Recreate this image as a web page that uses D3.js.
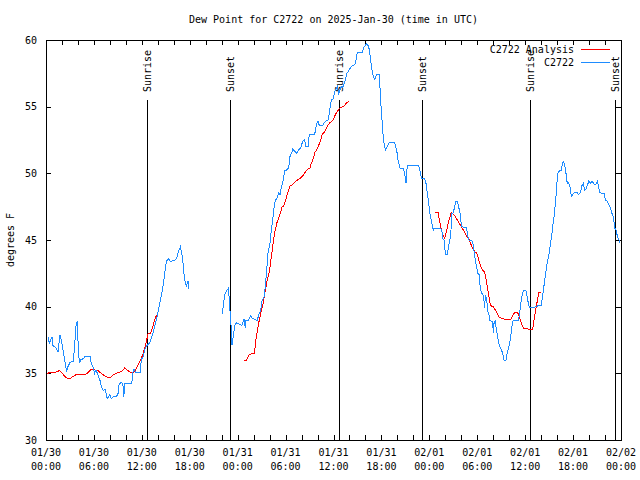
<!DOCTYPE html>
<html><head><meta charset="utf-8">
<script src="https://cdn.jsdelivr.net/npm/d3@7"></script>
<style>
body{margin:0;background:#fff;}
text{font-family:"DejaVu Sans Mono","Liberation Mono",monospace;font-size:10px;fill:#000;}
</style></head>
<body><svg id="c" width="640" height="480"></svg>
<script>
// ---- data (hours since 2025-01-30 00:00 UTC, dew point in °F; null = gap) ----
const titleText = "Dew Point for C2722 on 2025-Jan-30 (time in UTC)";
const yLabel = "degrees F";
const yTicks = [30,35,40,45,50,55,60];
const seriesNames = ["C2722 Analysis","C2722"];

const obsHours = [0.25,0.41,0.58,0.75,0.83,1.25,1.5,1.75,1.92,2.08,2.33,2.58,2.75,3.0,3.25,3.42,3.58,3.75,3.92,4.0,4.17,4.33,4.67,4.92,5.5,5.67,5.92,6.08,6.25,6.5,6.75,6.92,7.17,7.42,7.67,8.0,8.17,8.5,8.83,9.0,9.17,9.5,9.67,9.75,9.83,10.17,10.75,10.83,11.0,11.25,11.83,11.92,12.17,12.42,12.67,13.0,13.25,13.5,13.92,14.17,14.42,14.67,14.92,15.08,15.33,15.58,16.08,16.33,16.58,16.83,17.0,17.17,17.33,17.58,17.67,17.83,17.85,
 20.0,
 22.08,22.2,22.38,22.63,22.88,22.95,23.13,23.29,23.45,23.63,23.88,24.54,24.79,24.96,25.04,25.38,25.63,25.88,26.21,26.46,26.63,26.89,27.05,27.3,27.46,27.64,27.8,28.05,28.21,28.39,28.55,28.71,28.89,29.14,29.3,29.46,29.71,29.89,30.14,30.39,30.55,30.8,30.89,31.22,31.39,31.64,31.89,32.14,32.39,32.56,32.81,32.97,33.22,33.65,33.9,34.06,34.22,34.65,34.97,35.31,35.47,35.72,35.97,36.22,36.47,36.65,36.98,37.23,37.48,37.65,37.82,37.98,38.23,38.48,38.73,38.98,39.57,39.82,40.16,40.41,40.57,40.73,40.98,41.16,41.41,41.74,41.91,42.07,42.24,42.49,42.74,42.99,43.66,43.91,44.08,44.33,44.74,44.92,45.08,45.24,46.67,46.92,47.08,47.42,47.58,47.75,47.92,48.08,48.25,48.42,48.5,48.58,49.0,49.42,49.59,49.67,49.84,49.92,50.09,50.25,50.42,50.59,50.75,50.84,51.0,51.17,51.34,51.5,51.67,51.84,51.92,52.09,52.43,52.68,52.76,52.93,53.26,53.43,53.59,53.76,53.93,54.09,54.26,54.35,54.51,54.68,54.85,54.93,55.01,55.18,55.35,55.51,55.6,55.93,56.01,56.1,56.26,56.35,56.51,56.68,56.85,57.01,57.18,57.35,57.6,57.76,57.93,58.1,58.26,58.43,58.6,58.93,59.18,59.35,59.51,59.76,60.1,60.26,60.43,60.6,61.01,61.43,61.68,62.0,62.18,62.34,62.51,62.68,62.93,63.18,63.35,63.52,63.69,63.77,63.94,64.01,64.1,64.35,64.51,64.68,64.76,64.94,65.11,65.27,65.45,65.61,65.78,65.95,66.2,66.45,66.7,66.95,67.12,67.29,67.45,67.62,67.79,67.96,68.21,68.37,68.62,68.87,69.04,69.21,69.29,69.71,69.88,70.04,70.29,70.54,70.71,70.87,71.04,71.21,71.38,71.54,71.71,71.88];
const obsValues = [37.7,37.25,37.5,37.7,37.1,36.9,36.6,37.9,37.5,36.9,36.0,35.1,35.5,35.8,35.9,35.9,37.0,38.5,38.9,37.5,35.75,36.0,36.1,36.3,36.3,35.75,35.4,35.0,35.25,34.9,34.5,34.0,33.7,33.8,33.1,33.4,33.1,33.3,33.3,33.4,34.25,34.3,34.0,33.25,34.25,34.25,34.25,35.0,35.3,35.05,35.05,36.0,36.25,36.9,37.1,37.3,37.75,38.25,39.3,40.0,40.75,41.6,42.75,43.4,43.6,43.4,43.45,43.6,44.1,44.5,44.0,43.25,42.1,41.5,41.75,41.95,41.3,
 null,
 39.45,40.1,40.9,41.2,41.4,40.25,39.1,37.1,37.75,38.6,38.8,38.6,39.1,38.4,39.0,39.0,39.3,39.1,39.05,38.95,39.4,39.75,40.4,40.75,41.5,42.75,44.0,44.75,45.75,46.5,47.4,48.0,48.1,48.5,48.4,48.9,49.5,50.2,50.25,50.4,51.25,51.6,51.8,51.6,51.5,51.75,51.9,52.4,52.5,52.0,52.0,52.9,52.9,52.95,53.75,53.9,53.6,53.6,53.9,54.0,54.5,55.5,55.6,56.25,56.5,56.0,56.5,56.5,57.0,57.5,57.6,57.8,58.0,58.1,58.2,59.05,59.05,59.45,59.75,59.5,58.9,58.1,57.25,57.05,57.4,57.4,55.4,54.0,52.6,51.75,52.0,52.3,52.3,51.75,51.0,50.4,50.4,49.9,49.3,50.6,50.6,49.9,49.6,49.6,49.25,48.5,47.75,47.0,46.4,46.0,45.7,45.9,45.9,45.9,45.6,45.1,45.0,44.4,43.9,43.9,44.6,45.05,46.0,47.0,47.05,47.5,47.9,47.9,47.5,47.0,46.5,46.0,45.95,45.95,45.4,45.0,44.95,44.9,44.2,43.5,42.9,42.5,42.4,41.6,41.0,41.0,40.4,39.9,40.9,40.5,39.6,39.3,38.95,38.9,38.0,38.75,39.0,38.5,37.9,37.25,37.0,36.8,36.5,36.0,36.0,36.6,36.9,37.4,38.1,38.9,39.0,38.95,39.0,39.75,40.5,41.2,41.2,40.75,40.1,39.9,39.95,40.0,40.1,40.1,40.75,41.5,42.25,43.0,43.75,44.75,45.5,46.4,47.0,47.75,48.75,49.6,50.0,50.25,50.25,50.75,50.9,50.65,50.0,49.25,49.3,49.0,48.25,48.4,48.6,48.6,48.4,48.6,49.1,49.25,48.75,48.8,49.1,49.4,49.25,49.4,49.2,49.2,49.4,49.0,48.55,48.5,48.5,48.0,47.9,47.6,47.3,47.0,46.75,45.9,45.75,45.3,45.05,44.75];

const anaHours = [0.0,0.63,1.25,1.67,1.92,2.17,2.5,2.75,3.0,3.34,3.76,4.17,4.92,5.35,5.67,6.1,6.51,6.92,7.35,7.76,8.1,8.43,8.77,9.27,9.6,9.85,10.18,10.52,10.86,11.18,11.52,11.86,12.11,12.36,12.61,12.77,13.11,13.36,13.61,13.77,13.94,
 19.0,
 24.79,25.13,25.46,25.96,26.13,26.21,26.38,26.55,26.71,26.89,27.14,27.39,27.55,27.71,27.89,28.05,28.21,28.39,28.55,28.71,28.96,29.21,29.39,29.55,29.71,29.97,30.14,30.39,30.55,30.8,31.05,31.3,31.56,31.81,32.06,32.31,32.47,32.72,33.06,33.22,33.47,33.65,33.9,34.15,34.4,34.56,34.81,35.06,35.31,35.56,35.98,36.23,36.56,36.81,37.15,37.4,37.65,37.98,
 43.0,
 48.75,49.08,49.25,49.42,49.67,49.92,50.09,50.25,50.42,50.59,50.75,51.0,51.25,51.5,51.75,52.0,52.26,52.51,52.76,53.01,53.26,53.51,53.69,53.85,54.01,54.18,54.43,54.68,54.93,55.1,55.26,55.43,55.6,55.76,56.01,56.26,56.51,56.76,57.18,57.6,58.01,58.26,58.51,58.76,59.01,59.18,59.44,59.76,60.19,60.6,60.94,61.1,61.27,61.45,61.61,61.7,62.02];
const anaValues = [35.0,35.05,35.1,35.2,35.1,34.9,34.7,34.6,34.6,34.75,34.9,34.9,34.9,35.1,35.3,35.25,35.2,35.0,34.8,34.7,34.7,34.9,35.0,35.1,35.2,35.4,35.25,35.1,35.0,35.2,35.6,36.0,36.4,36.9,37.5,37.95,38.0,38.5,39.0,39.25,39.4,
 null,
 35.95,36.0,36.4,36.5,36.5,37.25,37.9,38.5,39.0,39.5,40.1,41.0,41.5,42.0,42.4,43.0,43.75,44.5,45.25,45.75,46.4,46.75,47.1,47.5,47.5,47.9,48.3,48.75,49.05,49.1,49.25,49.4,49.55,49.6,49.75,49.95,50.1,50.3,50.4,50.75,51.1,51.55,51.75,52.1,52.5,52.9,53.05,53.3,53.6,53.8,54.0,54.4,54.7,54.9,55.0,55.1,55.3,55.4,
 null,
 47.1,47.1,46.5,46.0,45.4,45.1,45.5,45.9,46.4,46.75,47.05,46.95,46.75,46.5,46.25,46.0,45.75,45.45,45.2,45.0,44.6,44.3,44.1,44.05,43.9,43.5,43.05,42.75,42.6,42.1,41.5,40.9,40.25,40.05,40.0,39.75,39.5,39.2,39.1,39.05,39.0,39.1,39.4,39.6,39.6,39.4,38.9,38.4,38.35,38.3,38.3,39.0,39.6,40.2,40.75,41.05,41.05];

const sunLabels = ["Sunrise","Sunset","Sunrise","Sunset","Sunrise","Sunset"];
const sunHours = [12.66,23.08,36.7,47.1,60.65,71.2];

// ---- drawing ----
const svg = d3.select("#c");
const L=46, R=621, T=40, B=440;
const t0 = Date.UTC(2025,0,30);
const toDate = h => new Date(t0 + h*3600e3);
const x = d3.scaleUtc().domain([toDate(0), toDate(72)]).range([L, R]);
const y = d3.scaleLinear().domain([30,60]).range([B, T]);
const colAna = "#ff0000", colObs = "#1e8cff";

svg.append("text").attr("x",(L+R)/2).attr("y",23).attr("text-anchor","middle").text(titleText);

// x axis (bottom & top), ticks every 2h, labels every 6h
const xTickVals = d3.range(0,73,2).map(toDate);
const fmtD = d3.utcFormat("%m/%d"), fmtT = d3.utcFormat("%H:%M");
const gxB = svg.append("g").attr("transform",`translate(0,${B})`)
  .call(d3.axisBottom(x).tickValues(xTickVals).tickSizeInner(-5).tickSizeOuter(0).tickFormat(""));
const gxT = svg.append("g").attr("transform",`translate(0,${T})`)
  .call(d3.axisTop(x).tickValues(xTickVals).tickSizeInner(-5).tickSizeOuter(0).tickFormat(""));
const labVals = d3.range(0,73,6).map(toDate);
const xl = svg.append("g").selectAll("text").data(labVals).join("text")
  .attr("text-anchor","middle").attr("transform",d=>`translate(${x(d)},0)`);
xl.append("tspan").attr("x",0).attr("y",456).text(d=>fmtD(d));
xl.append("tspan").attr("x",0).attr("y",470).text(d=>fmtT(d));

// y axis (left & right)
const gyL = svg.append("g").attr("transform",`translate(${L},0)`)
  .call(d3.axisLeft(y).tickValues(yTicks).tickSizeInner(-5).tickSizeOuter(0).tickPadding(9));
const gyR = svg.append("g").attr("transform",`translate(${R},0)`)
  .call(d3.axisRight(y).tickValues(yTicks).tickSizeInner(-5).tickSizeOuter(0).tickFormat(""));
[gxB,gxT,gyL,gyR].forEach(g=>{
  g.select(".domain").remove();
  g.selectAll("line").attr("stroke","#000").attr("shape-rendering","crispEdges");
  g.selectAll("text").style("font-family",null).style("font-size",null).attr("font-family",null).attr("font-size",null);
});
gyL.attr("font-family",null).attr("font-size",null);
gyL.selectAll("text").attr("fill","#000");

svg.append("text").attr("transform","translate(10,240) rotate(-90)").attr("text-anchor","middle").attr("dy","0.35em").text(yLabel);

// sunrise / sunset lines
const sun = svg.append("g");
sunHours.forEach((h,i)=>{
  const sx = Math.round(x(toDate(h)))+0.5;
  sun.append("line").attr("x1",sx).attr("x2",sx).attr("y1",100).attr("y2",B).attr("stroke","#000").attr("shape-rendering","crispEdges");
  sun.append("text").attr("transform",`translate(${sx},92) rotate(-90)`).attr("dy","0.35em").text(sunLabels[i]);
});

// series
const line = d3.line().defined(d=>d[1]!==null).x(d=>x(toDate(d[0]))).y(d=>y(d[1]));
const anaData = anaHours.map((h,i)=>[h,anaValues[i]]);
const obsData = obsHours.map((h,i)=>[h,obsValues[i]]);
svg.append("path").datum(anaData).attr("d",line).attr("fill","none").attr("stroke",colAna).attr("stroke-width",1).attr("shape-rendering","crispEdges");
svg.append("path").datum(obsData).attr("d",line).attr("fill","none").attr("stroke",colObs).attr("stroke-width",1).attr("shape-rendering","crispEdges");

// frame
svg.append("rect").attr("x",L+0.5).attr("y",T+0.5).attr("width",R-L).attr("height",B-T)
  .attr("fill","none").attr("stroke","#000").attr("shape-rendering","crispEdges");

// legend
const leg = svg.append("g");
[[seriesNames[0],colAna,49],[seriesNames[1],colObs,62]].forEach(([n,c,ly])=>{
  leg.append("text").attr("x",574).attr("y",ly).attr("dy","0.35em").attr("text-anchor","end").text(n);
  leg.append("line").attr("x1",581).attr("x2",610).attr("y1",ly+0.5).attr("y2",ly+0.5).attr("stroke",c).attr("shape-rendering","crispEdges");
});
</script></body></html>
